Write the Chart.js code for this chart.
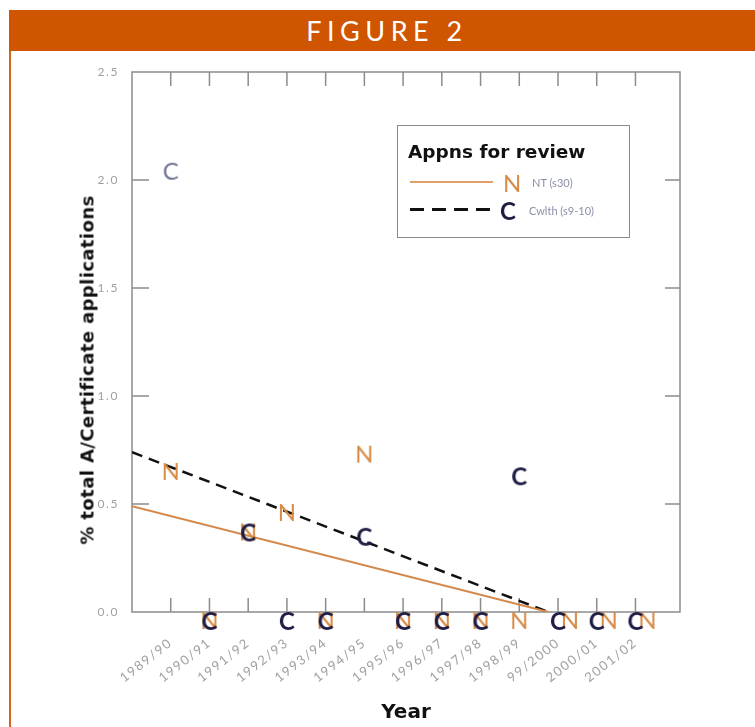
<!DOCTYPE html>
<html><head><meta charset="utf-8">
<script src="https://cdn.jsdelivr.net/npm/chart.js@4.4.0/dist/chart.umd.min.js"></script>
<style>
html,body{margin:0;padding:0;background:#fff;}
#wrap{position:relative;width:755px;height:727px;overflow:hidden;}
#frame{position:absolute;left:9px;top:10px;width:760px;height:740px;border:2px solid #d3641c;box-sizing:border-box;}
#banner{position:absolute;left:9px;top:10px;width:746px;height:41px;box-sizing:border-box;padding-left:10px;background:#cf5500;color:#fff;font:400 27px Lato, sans-serif;letter-spacing:5.5px;text-align:center;line-height:42px;}
#chart{position:absolute;left:0;top:0;}
#ytitle{position:absolute;left:87px;top:370px;transform:translate(-50%,-50%) rotate(-90deg);white-space:nowrap;font:bold 18px "DejaVu Sans",sans-serif;letter-spacing:0.4px;color:#111;}
#xtitle{position:absolute;left:406px;top:711px;transform:translate(-50%,-50%);white-space:nowrap;font:bold 20px "DejaVu Sans",sans-serif;color:#111;}
#legend{position:absolute;left:397px;top:125px;width:233px;height:113px;border:1.5px solid #8a8a8a;box-sizing:border-box;background:#fff;}
#legend .t{position:absolute;left:10px;top:15px;font:bold 18.5px "DejaVu Sans",sans-serif;color:#111;white-space:nowrap;}
#legend .solid{position:absolute;left:12px;top:55px;width:83px;height:2px;background:#dfa06c;}
#legend .dash{position:absolute;left:12px;top:82px;width:82px;height:3px;background:repeating-linear-gradient(90deg,#111 0 14px,transparent 14px 22px);}
#legend .n{position:absolute;left:105px;top:42px;font:400 24px Lato,sans-serif;color:#d88b45;}
#legend .c{position:absolute;left:102px;top:70px;font:700 24px Lato,sans-serif;color:#1e1d45;}
#legend .s{position:absolute;font:400 11px Lato,sans-serif;color:#8a90a8;white-space:nowrap;}
</style>
</head><body>
<div id="wrap">
  <canvas id="chart" width="755" height="727"></canvas>
  <div id="frame"></div>
  <div id="banner">FIGURE 2</div>
  <div id="ytitle">% total A/Certificate applications</div>
  <div id="xtitle">Year</div>
  <div id="legend">
    <div class="t">Appns for review</div>
    <div class="solid"></div><div class="n">N</div><div class="s" style="left:134px;top:50px;">NT (s30)</div>
    <div class="dash"></div><div class="c">C</div><div class="s" style="left:131px;top:78px;">Cwlth (s9-10)</div>
  </div>
</div>
<script>
const categories = ['1989/90','1990/91','1991/92','1992/93','1993/94','1994/95','1995/96','1996/97','1997/98','1998/99','99/2000','2000/01','2001/02'];
const ntValues    = [0.69, 0, 0.41, 0.50, 0, 0.77, 0, 0, 0, 0, 0, 0, 0];
const cwlthValues = [2.08, 0, 0.41, 0,    0, 0.39, 0, 0, 0, 0.67, 0, 0, 0];
const ntTrendX = [-1, 9.75];
const ntTrendY = [0.49, 0];
const cwlthTrendX = [-1, 9.75];
const cwlthTrendY = [0.74, 0];
const yTicks = [0, 0.5, 1.0, 1.5, 2.0, 2.5];

function letterImg(ch, color, weight, size, dx){
  const c = document.createElement('canvas'); c.width = 60; c.height = 50;
  const g = c.getContext('2d');
  g.font = weight + ' ' + size + 'px Lato, sans-serif';
  g.fillStyle = color; g.textAlign = 'center';
  const m = g.measureText(ch);
  g.fillText(ch, 30 + dx, 25 + m.actualBoundingBoxAscent);
  return c;
}
const nImg = letterImg('N', '#d88b45', 400, 24, 0);
const nImgShift = letterImg('N', '#d88b45', 400, 24, 12);
const cImg = letterImg('C', '#1e1d45', 700, 24, 0);
const cImgLight = letterImg('C', '#6e7591', 400, 24, 0);

const pts = vals => vals.map((v,i)=>({x:i, y:v}));
const line = (xs, ys) => xs.map((x,i)=>({x:x, y:ys[i]}));

const boxTicks = {
  id:'boxTicks',
  beforeDraw(chart){ chart.ctx.letterSpacing = '1.6px'; },
  beforeDatasetsDraw(chart){
    const {ctx, chartArea:a, scales:{x,y}} = chart;
    ctx.save(); ctx.strokeStyle = '#8c8c8c'; ctx.lineWidth = 1.5;
    ctx.beginPath();
    ctx.rect(a.left, a.top, a.right-a.left, a.bottom-a.top);
    x.ticks.forEach(t=>{const px = x.getPixelForValue(t.value);
      ctx.moveTo(px,a.top); ctx.lineTo(px,a.top+14);
      ctx.moveTo(px,a.bottom); ctx.lineTo(px,a.bottom-14);});
    y.ticks.forEach(t=>{ if(t.value<=0||t.value>=2.5) return; const py = y.getPixelForValue(t.value);
      ctx.moveTo(a.left,py); ctx.lineTo(a.left+17,py);
      ctx.moveTo(a.right,py); ctx.lineTo(a.right-15,py);});
    ctx.stroke(); ctx.restore();
  }
};

new Chart(document.getElementById('chart'), {
  type:'scatter',
  data:{datasets:[
    {label:'Cwlth', data:pts(cwlthValues), pointStyle:cwlthValues.map((v,i)=>i===0?cImgLight:cImg), pointRadius:10, clip:false},
    {label:'NT', data:pts(ntValues), pointStyle:ntValues.map((v,i)=>i>=10?nImgShift:nImg), pointRadius:10, clip:false},
    {label:'NT trend', data:line(ntTrendX, ntTrendY), showLine:true, pointRadius:0, borderColor:'#d4894a', borderWidth:2, fill:false},
    {label:'Cwlth trend', data:line(cwlthTrendX, cwlthTrendY), showLine:true, pointRadius:0, borderColor:'#111', borderWidth:2.5, borderDash:[11,7], fill:false}
  ]},
  options:{
    responsive:false, animation:false, devicePixelRatio:1,
    layout:{padding:{top:72, right:75, left:0, bottom:0}},
    plugins:{legend:{display:false}, tooltip:{enabled:false}},
    scales:{
      x:{type:'linear', min:-1, max:13.15,
        afterBuildTicks(s){ s.ticks = categories.map((c,i)=>({value:i})); },
        afterFit(s){ s.height = 115; },
        grid:{display:false, drawTicks:false}, border:{display:false},
        ticks:{callback:(v)=>categories[v], minRotation:38, maxRotation:38, autoSkip:false, padding:23, color:'#a0a0a0', font:{family:'Lato', size:13}}},
      y:{type:'linear', min:0, max:2.5,
        afterBuildTicks(s){ s.ticks = yTicks.map(v=>({value:v})); },
        afterFit(s){ s.width = 132; },
        grid:{display:false, drawTicks:false}, border:{display:false},
        ticks:{callback:(v)=>v.toFixed(1), padding:13, color:'#a0a0a0', font:{family:'Lato', size:12}}}
    }
  },
  plugins:[boxTicks]
});
</script>
</body></html>
